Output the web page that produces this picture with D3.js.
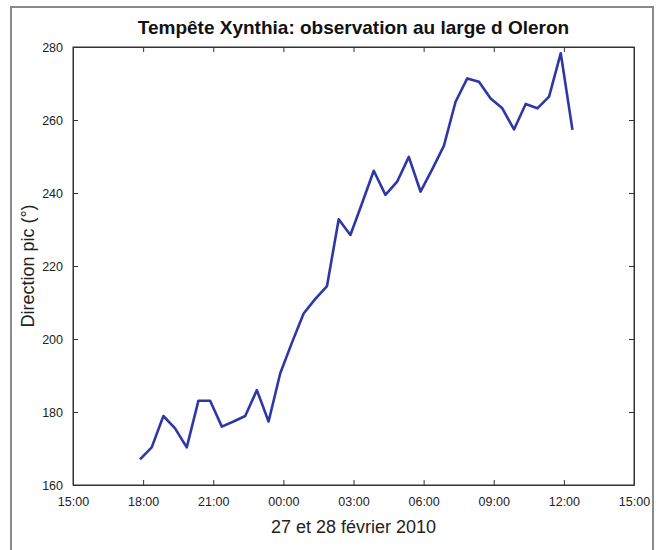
<!DOCTYPE html>
<html>
<head>
<meta charset="utf-8">
<script src="https://cdn.jsdelivr.net/npm/d3@7"></script>
<style>
  body { margin: 0; background: #fff; }
  svg { display: block; font-family: "Liberation Sans", Arial, sans-serif; }
</style>
</head>
<body>
<svg id="svg1" width="665" height="550"></svg>
<script>
// observation times (27 -> 28 fevrier 2010)
var times = ['27 17:52','27 18:22','27 18:52','27 19:22','27 19:52','27 20:22','27 20:52','27 21:22',
  '27 21:52','27 22:22','27 22:52','27 23:22','27 23:52','28 00:22','28 00:52','28 01:22',
  '28 01:52','28 02:22','28 02:52','28 03:22','28 03:52','28 04:22','28 04:52','28 05:22',
  '28 05:52','28 06:22','28 06:52','28 07:22','28 07:52','28 08:22','28 08:52','28 09:22',
  '28 09:52','28 10:22','28 10:52','28 11:22','28 11:52','28 12:22'];
var direction = [167, 170.3, 178.9, 175.5, 170.3, 183.1, 183.1, 176, 177.4, 178.9, 186, 177.4,
  190.6, 199, 207, 211, 214.5, 232.8, 228.5, 237.2, 246.1, 239.5, 243.1, 249.9, 240.4, 246.5,
  252.9, 265, 271.4, 270.5, 265.9, 263.2, 257.4, 264.4, 263.2, 266.4, 278.3, 257.3];
var xTicks = ['27 15:00','27 18:00','27 21:00','28 00:00','28 03:00','28 06:00','28 09:00','28 12:00','28 15:00'];
var yTicks = [160, 180, 200, 220, 240, 260, 280];

var parser = d3.timeParse('%d %H:%M');
var data = times.map(function(t, i){ return {date: parser(t), value: direction[i]}; });

var svg = d3.select('#svg1');

// outer frame
svg.append('path')
    .attr('d', 'M11,560 V7 H653 V560')
    .attr('fill', 'none')
    .attr('stroke', '#8a8a8a')
    .attr('stroke-width', 2);

var plotLeft = 73, plotRight = 634, plotTop = 47, plotBottom = 485;

var scaleX = d3.scaleTime().domain([parser(xTicks[0]), parser(xTicks[xTicks.length-1])]).range([plotLeft, plotRight]);
var scaleY = d3.scaleLinear().domain([160, 280]).range([plotBottom, plotTop]);

var fmt = d3.timeFormat('%H:%M');
var tickDates = xTicks.map(parser);

// axes, ticks pointing inward
svg.append('g')
    .attr('class', 'x-axis')
    .attr('transform', 'translate(0,' + plotBottom + ')')
    .call(d3.axisBottom(scaleX).tickValues(tickDates).tickFormat(fmt).tickSizeInner(-5).tickSizeOuter(0).tickPadding(12));
svg.append('g')
    .attr('class', 'x-axis-top')
    .attr('transform', 'translate(0,' + plotTop + ')')
    .call(d3.axisTop(scaleX).tickValues(tickDates).tickFormat('').tickSizeInner(-5).tickSizeOuter(0));
svg.append('g')
    .attr('class', 'y-axis')
    .attr('transform', 'translate(' + plotLeft + ',0)')
    .call(d3.axisLeft(scaleY).tickValues(yTicks).tickSizeInner(-5).tickSizeOuter(0).tickPadding(10));
svg.append('g')
    .attr('class', 'y-axis-right')
    .attr('transform', 'translate(' + plotRight + ',0)')
    .call(d3.axisRight(scaleY).tickValues(yTicks).tickFormat('').tickSizeInner(-5).tickSizeOuter(0));

svg.selectAll('.domain').attr('stroke', '#333');
svg.selectAll('.tick line').attr('stroke', '#333');
svg.selectAll('.tick text').attr('font-size', 12.5).attr('fill', '#222')
    .attr('font-family', '"Liberation Sans", Arial, sans-serif');

// box
svg.append('rect')
    .attr('x', plotLeft).attr('y', plotTop)
    .attr('width', plotRight - plotLeft).attr('height', plotBottom - plotTop)
    .attr('fill', 'none').attr('stroke', '#333').attr('stroke-width', 1);

// data line
var line = d3.line()
    .x(function(d){ return scaleX(d.date); })
    .y(function(d){ return scaleY(d.value); });

svg.append('path')
    .datum(data)
    .attr('d', line)
    .attr('fill', 'none')
    .attr('stroke', '#2e37a6')
    .attr('stroke-width', 2.6)
    .attr('stroke-linejoin', 'round');

// titles
svg.append('text')
    .attr('x', (plotLeft + plotRight) / 2).attr('y', 34)
    .attr('text-anchor', 'middle')
    .attr('font-size', 19).attr('font-weight', 'bold').attr('fill', '#111')
    .text('Tempête Xynthia: observation au large d Oleron');

svg.append('text')
    .attr('x', (plotLeft + plotRight) / 2).attr('y', 533)
    .attr('text-anchor', 'middle')
    .attr('font-size', 18).attr('fill', '#222')
    .text('27 et 28 février 2010');

svg.append('text')
    .attr('transform', 'translate(34,' + ((plotTop + plotBottom) / 2) + ') rotate(-90)')
    .attr('text-anchor', 'middle')
    .attr('font-size', 18).attr('fill', '#222')
    .text('Direction pic (°)');
</script>
</body>
</html>
